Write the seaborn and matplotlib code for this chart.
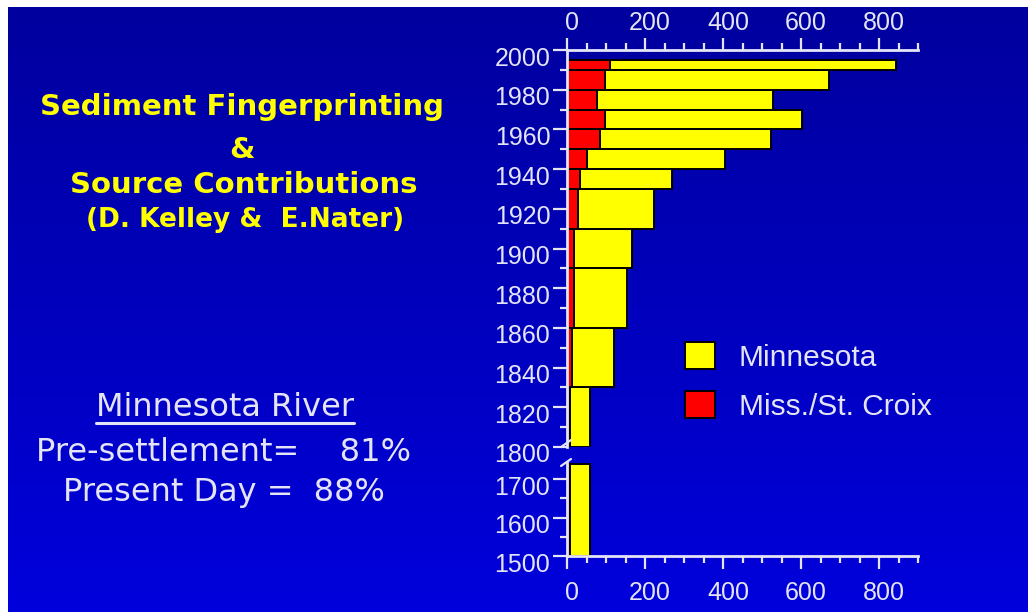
import numpy as np
import pandas as pd
import matplotlib
matplotlib.use("Agg")
import matplotlib.pyplot as plt
import seaborn as sns
from matplotlib.patches import Patch
from matplotlib.lines import Line2D
from matplotlib.ticker import MultipleLocator, FixedLocator
from matplotlib.colors import LinearSegmentedColormap
import matplotlib.transforms as mtransforms

# ---------------- data ----------------
period_edges = [1800, 1830, 1860, 1890, 1910, 1930, 1940, 1950, 1960, 1970, 1980, 1990, 1995]
miss_stcroix = [8, 14, 18, 18, 29, 34, 51, 84, 98, 77, 98, 109]
minnesota = [52, 106, 137, 149, 195, 234, 355, 439, 505, 450, 573, 734]
presettle_edges = [1500, 1740]
presettle_miss = [8]
presettle_minn = [52]

x_ticks = [0, 200, 400, 600, 800]
upper_year_ticks = list(range(1800, 2001, 20))
lower_year_ticks = [1500, 1600, 1700]
legend_labels = ["Minnesota", "Miss./St. Croix"]

title_lines = ["Sediment Fingerprinting", "&", "Source Contributions"]
credit = "(D. Kelley &  E.Nater)"
river_head = "Minnesota River"
river_lines = ["Pre-settlement=    81%", "Present Day =  88%"]

# ---------------- style ----------------
YEL = "#FFFF00"
RED = "#FF0000"
TXT = "#E4E4F6"
W, H = 1028, 612

sns.set_theme(style="ticks")
plt.rcParams["font.family"] = ["Liberation Sans", "DejaVu Sans"]

fig = plt.figure(figsize=(W / 100, H / 100), dpi=100)
fig.patch.set_facecolor("white")


def fbox(l, t, r, b):
    return [l / W, 1 - b / H, (r - l) / W, (b - t) / H]


def fx(px):
    return px / W


def fy(py):
    return 1 - py / H


# background gradient
bg = fig.add_axes(fbox(8, 7, W, H), zorder=0)
grad = np.linspace(0, 1, 256)[:, None]
cmap = LinearSegmentedColormap.from_list("bg", ["#00009E", "#0000DC"])
bg.imshow(grad, aspect="auto", cmap=cmap, extent=[0, 1, 0, 1], origin="upper")
bg.axis("off")

ax1 = fig.add_axes(fbox(567, 50, 918, 447), zorder=2)
ax2 = fig.add_axes(fbox(567, 462, 918, 556), zorder=2)


def draw_stack(ax, edges, red_vals, yel_vals):
    e = [float(v) for v in edges]
    mids = [(a + b) / 2 for a, b in zip(e[:-1], e[1:])]
    df = pd.DataFrame({
        "year": mids,
        "red": [float(v) for v in red_vals],
        "total": [float(r) + float(y) for r, y in zip(red_vals, yel_vals)],
    })
    sns.histplot(data=df, y="year", weights="total", bins=e, ax=ax, color=YEL,
                 edgecolor="black", linewidth=1.4, alpha=1, legend=False)
    sns.histplot(data=df, y="year", weights="red", bins=e, ax=ax,
                 color=RED, edgecolor="black", linewidth=1.4, alpha=1, legend=False)


draw_stack(ax1, period_edges, miss_stcroix, minnesota)
draw_stack(ax2, presettle_edges, presettle_miss, presettle_minn)

for ax in (ax1, ax2):
    ax.set_facecolor("none")
    ax.set_xlim(0, 900)
    ax.set_xlabel("")
    ax.set_ylabel("")
    ax.xaxis.set_major_locator(FixedLocator(x_ticks))
    ax.xaxis.set_minor_locator(MultipleLocator(50))
    for s in ax.spines.values():
        s.set_color(TXT)
        s.set_linewidth(2.0)
    ax.spines["right"].set_visible(False)

ax1.set_ylim(1800, 2000)
ax1.yaxis.set_major_locator(FixedLocator(upper_year_ticks))
ax1.yaxis.set_minor_locator(MultipleLocator(10))
ax1.spines["bottom"].set_visible(False)

ax2.set_ylim(1500, 1745)
ax2.yaxis.set_major_locator(FixedLocator(lower_year_ticks))
ax2.yaxis.set_minor_locator(MultipleLocator(50))
ax2.spines["top"].set_visible(False)

LS = 18
ax1.tick_params(axis="x", which="major", top=True, bottom=False, labeltop=True,
                labelbottom=False, direction="out", length=9, width=1.6, pad=2,
                colors=TXT, labelsize=LS)
ax1.tick_params(axis="x", which="minor", top=True, bottom=False, direction="out",
                length=5, width=1.6, colors=TXT)
ax2.tick_params(axis="x", which="major", top=False, bottom=True, labeltop=False,
                labelbottom=True, direction="out", length=9, width=1.6, pad=9,
                colors=TXT, labelsize=LS)
ax2.tick_params(axis="x", which="minor", top=False, bottom=True, direction="out",
                length=5, width=1.6, colors=TXT)
for ax in (ax1, ax2):
    ax.tick_params(axis="y", which="major", left=True, right=False, direction="out",
                   length=10, width=1.6, pad=2, colors=TXT, labelsize=LS)
    ax.tick_params(axis="y", which="minor", left=True, right=False, direction="out",
                   length=5, width=1.6, colors=TXT)

# small label offsets as in the original rendering
offx = mtransforms.ScaledTranslation(0.05, 0, fig.dpi_scale_trans)
offy = mtransforms.ScaledTranslation(0, -0.06, fig.dpi_scale_trans)
for ax in (ax1, ax2):
    for lab in ax.get_xticklabels():
        lab.set_transform(lab.get_transform() + offx)
    for lab in ax.get_yticklabels():
        lab.set_transform(lab.get_transform() + offy)

# axis break marks
for (x0, y0, x1, y1) in [(561, 447, 571, 440), (561, 466, 571, 459)]:
    fig.add_artist(Line2D([fx(x0), fx(x1)], [fy(y0), fy(y1)], color=TXT, lw=1.6,
                          transform=fig.transFigure, zorder=5))

# legend
handles = [Patch(facecolor=YEL, edgecolor="black", linewidth=1.4, label=legend_labels[0]),
           Patch(facecolor=RED, edgecolor="black", linewidth=1.4, label=legend_labels[1])]
fig.legend(handles=handles, loc="upper left", bbox_to_anchor=(fx(685), fy(342)),
           frameon=False, prop={"family": "Liberation Sans", "size": 21.5},
           handlelength=1.0, handleheight=1.0, handletextpad=0.8, labelspacing=0.66,
           borderpad=0, borderaxespad=0, labelcolor=TXT)

# left-hand texts
TF = ["DejaVu Sans"]
fig.text(fx(242), fy(115), title_lines[0], color=YEL, fontsize=21, fontweight="bold",
         family=TF, ha="center", va="baseline")
fig.text(fx(242), fy(158), title_lines[1], color=YEL, fontsize=21, fontweight="bold",
         family=TF, ha="center", va="baseline")
fig.text(fx(244), fy(193), title_lines[2], color=YEL, fontsize=21, fontweight="bold",
         family=TF, ha="center", va="baseline")
fig.text(fx(245), fy(227), credit, color=YEL, fontsize=19, fontweight="bold",
         family=TF, ha="center", va="baseline")

head = fig.text(fx(225), fy(416), river_head, color=TXT, fontsize=23,
                family=TF, ha="center", va="baseline")
fig.text(fx(224), fy(461), river_lines[0], color=TXT, fontsize=23,
         family=TF, ha="center", va="baseline")
fig.text(fx(224), fy(501), river_lines[1], color=TXT, fontsize=23,
         family=TF, ha="center", va="baseline")

fig.canvas.draw()
bb = head.get_window_extent(fig.canvas.get_renderer())
fig.add_artist(Line2D([bb.x0 / W, bb.x1 / W], [fy(423), fy(423)], color=TXT, lw=2.2,
                      transform=fig.transFigure))

fig.savefig("out.png", dpi=100, facecolor=fig.get_facecolor())
